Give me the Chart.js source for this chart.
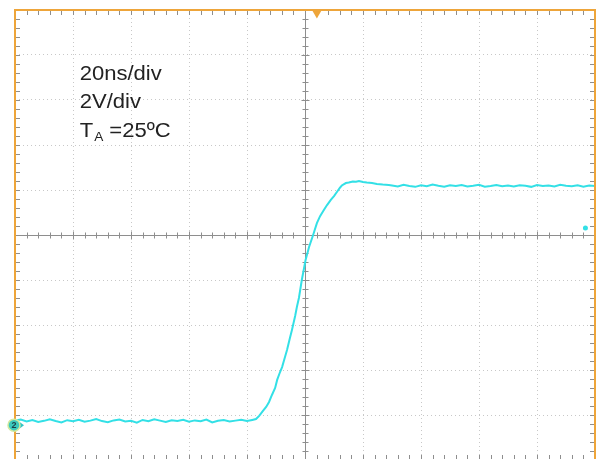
<!DOCTYPE html>
<html><head><meta charset="utf-8">
<script src="https://cdn.jsdelivr.net/npm/chart.js@4"></script>
<style>html,body{margin:0;padding:0;background:#fff;overflow:hidden}canvas{display:block}</style>
</head><body>
<canvas id="c" width="600" height="465"></canvas>
<script>
// ---- data (time in ns relative to screen centre, voltage in V relative to screen centre) ----
const baselineTimeNs = [-100,-98,-96,-94,-92,-90,-88,-86,-84,-82,-80,-78,-76,-74,-72,-70,-68,-66,-64,-62,-60,-58,-56,-54,-52,-50,-48,-46,-44,-42,-40,-38,-36,-34,-32,-30,-28,-26,-24,-22,-20];
const baselineV = [-8.24,-8.20,-8.29,-8.22,-8.31,-8.26,-8.19,-8.27,-8.33,-8.23,
  -8.28,-8.21,-8.30,-8.25,-8.18,-8.27,-8.32,-8.24,-8.20,-8.29,
  -8.26,-8.34,-8.22,-8.28,-8.19,-8.25,-8.31,-8.23,-8.27,-8.21,
  -8.30,-8.24,-8.28,-8.20,-8.33,-8.26,-8.22,-8.29,-8.25,-8.21,-8.27];
const edgeTimeNs = [-18.2,-16.9,-15.8,-14.5,-13.4,-12.4,-11.4,-10.3,-9.6,-8.6,-7.9,-6.9,-6.2,-5.2,-4.5,-3.4,-2.8,-2.1,-1.1,0.2,1.4,2.8,4.1,5.2,6.5,7.6,8.9,10.0,11.0,12.0,12.7,14.1,15.1,16.5,17.6,18.6,20.0,21.3,23.1,24.8,26.8,28.9];
const edgeV = [-8.22,-8.18,-8.04,-7.82,-7.64,-7.42,-7.11,-6.80,-6.44,-6.09,-5.87,-5.42,-5.11,-4.58,-4.22,-3.60,-3.20,-2.80,-2.00,-1.11,-0.53,0.00,0.53,0.84,1.11,1.33,1.56,1.73,1.91,2.09,2.20,2.31,2.33,2.38,2.37,2.40,2.36,2.33,2.31,2.27,2.24,2.22];
const plateauTimeNs = [30,32,34,36,38,40,42,44,46,48,50,52,54,56,58,60,62,64,66,68,70,72,74,76,78,80,82,84,86,88,90,92,94,96,98,100];
const plateauV = [2.20,2.16,2.23,2.18,2.14,2.21,2.17,2.24,2.19,2.15,
  2.21,2.18,2.22,2.16,2.19,2.23,2.15,2.18,2.22,2.17,
  2.20,2.16,2.21,2.19,2.14,2.22,2.18,2.20,2.16,2.23,
  2.19,2.17,2.21,2.15,2.20,2.18];
const strayTimeNs = [96.7];
const strayV = [0.31];
const triggerTimeNs = [4.1];
const triggerV = [9.85];
const channelGroundV = -8.45;
const annotationLines = ['20ns/div', '2V/div'];
const tempLabel = {main: 'T', sub: 'A', rest: ' =25\u00BAC'};

const toPts = (t, v) => t.map((x, i) => ({x, y: v[i]}));
const tracePts = [].concat(toPts(baselineTimeNs, baselineV), toPts(edgeTimeNs, edgeV), toPts(plateauTimeNs, plateauV));

const TRACE = '#33e0e6';
const ORANGE = '#eea53a';

const scopeDecor = {
  id: 'scopeDecor',
  beforeDatasetsDraw(chart) {
    const {ctx, chartArea: ca, scales: {x: xs, y: ys}} = chart;
    ctx.save();
    ctx.strokeStyle = '#8e8e8e';
    ctx.lineWidth = 1;
    const cx = Math.round(xs.getPixelForValue(0)) + 0.5;
    const cy = Math.round(ys.getPixelForValue(0)) + 0.5;
    ctx.beginPath();
    ctx.moveTo(ca.left, cy); ctx.lineTo(ca.right, cy);
    ctx.moveTo(cx, ca.top); ctx.lineTo(cx, ca.bottom);
    for (let i = 0; i <= 50; i++) {
      const t = -100 + i * 4;
      const px = Math.round(xs.getPixelForValue(t)) + 0.5;
      const major = i % 5 === 0;
      const h = major ? 4 : 3;
      ctx.moveTo(px, cy - h); ctx.lineTo(px, cy + h);
      ctx.moveTo(px, ca.top); ctx.lineTo(px, ca.top + 5);
      ctx.moveTo(px, ca.bottom); ctx.lineTo(px, ca.bottom - 5);
    }
    for (let i = 0; i <= 50; i++) {
      const v = -10 + i * 0.4;
      const py = Math.round(ys.getPixelForValue(v)) + 0.5;
      const major = i % 5 === 0;
      const h = major ? 4 : 3;
      ctx.moveTo(cx - h, py); ctx.lineTo(cx + h, py);
      ctx.moveTo(ca.left, py); ctx.lineTo(ca.left + 5, py);
      ctx.moveTo(ca.right, py); ctx.lineTo(ca.right - 5, py);
    }
    ctx.stroke();
    ctx.fillStyle = '#222';
    ctx.textBaseline = 'alphabetic';
    const tx = xs.getPixelForValue(-77.7);
    const baseY = [80, 108, 137];
    const drawScaled = (s, x, y, font) => {
      ctx.save(); ctx.translate(x, y); ctx.scale(1.05, 1); ctx.font = font; ctx.fillText(s, 0, 0); ctx.restore();
    };
    const F = '21px "Liberation Sans", Arial, sans-serif';
    const FS = '13px "Liberation Sans", Arial, sans-serif';
    annotationLines.forEach((s, i) => drawScaled(s, tx, baseY[i], F));
    ctx.font = F;
    const wT = ctx.measureText(tempLabel.main).width * 1.05;
    drawScaled(tempLabel.main, tx, baseY[2], F);
    ctx.font = FS;
    const wA = ctx.measureText(tempLabel.sub).width * 1.05;
    drawScaled(tempLabel.sub, tx + wT + 1, baseY[2] + 4, FS);
    drawScaled(tempLabel.rest, tx + wT + 1 + wA, baseY[2], F);
    ctx.restore();
  },
  afterDatasetsDraw(chart) {
    const {ctx, chartArea: ca, scales: {y: ys}} = chart;
    ctx.save();
    ctx.strokeStyle = ORANGE;
    ctx.lineWidth = 2;
    ctx.strokeRect(ca.left, ca.top, ca.right - ca.left, ca.bottom - ca.top);
    const my = ys.getPixelForValue(channelGroundV);
    const mx = ca.left - 1;
    ctx.fillStyle = '#2fc4c4';
    ctx.beginPath();
    ctx.moveTo(mx + 6, my - 3); ctx.lineTo(mx + 10, my); ctx.lineTo(mx + 6, my + 3); ctx.closePath(); ctx.fill();
    ctx.beginPath(); ctx.arc(mx, my, 6, 0, Math.PI * 2);
    ctx.fillStyle = '#3cc9bc'; ctx.fill();
    ctx.strokeStyle = '#cfe9a0'; ctx.lineWidth = 1.5; ctx.stroke();
    ctx.fillStyle = '#1b3f46';
    ctx.font = 'bold 9px "Liberation Sans", Arial, sans-serif';
    ctx.textAlign = 'center'; ctx.textBaseline = 'middle';
    ctx.fillText('2', mx, my + 0.5);
    ctx.restore();
  }
};

new Chart(document.getElementById('c'), {
  type: 'scatter',
  data: {
    datasets: [
      {label: 'CH2', data: tracePts, showLine: true, borderColor: TRACE, borderWidth: 2, pointRadius: 0, tension: 0, fill: false},
      {label: 'stray', data: toPts(strayTimeNs, strayV), pointRadius: 2.5, pointBackgroundColor: TRACE, pointBorderWidth: 0},
      {label: 'trigger', data: toPts(triggerTimeNs, triggerV), pointStyle: 'triangle', rotation: 180, pointRadius: 5, pointBackgroundColor: ORANGE, pointBorderColor: ORANGE, pointBorderWidth: 0, clip: false}
    ]
  },
  options: {
    responsive: false,
    animation: false,
    layout: {padding: {left: 15, top: 10, right: 4, bottom: 2}},
    plugins: {legend: {display: false}, tooltip: {enabled: false}},
    scales: {
      x: {type: 'linear', min: -100, max: 100,
          ticks: {display: false, stepSize: 20},
          grid: {color: '#c8c8c8', lineWidth: 1, drawTicks: false},
          border: {display: false, dash: [1, 3]}},
      y: {type: 'linear', min: -10, max: 10,
          ticks: {display: false, stepSize: 2},
          grid: {color: '#c8c8c8', lineWidth: 1, drawTicks: false},
          border: {display: false, dash: [1, 3]}}
    }
  },
  plugins: [scopeDecor]
});
</script>
</body></html>
